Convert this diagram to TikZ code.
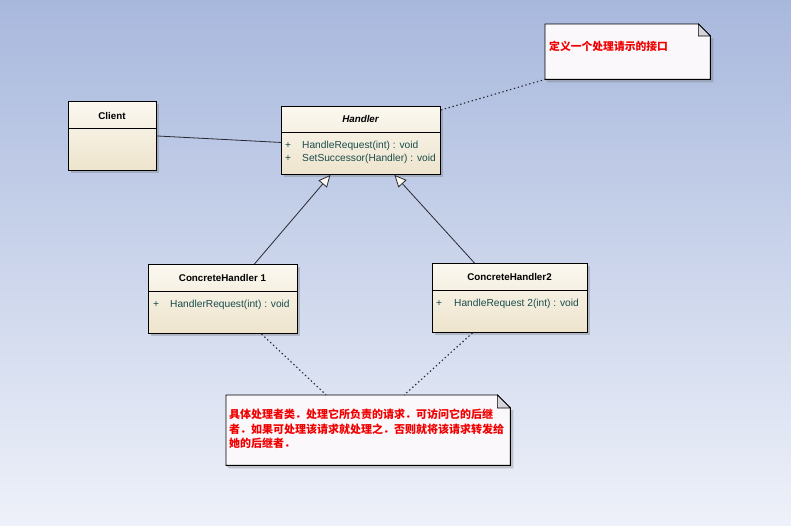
\documentclass[tikz,border=0pt]{standalone}
\usepackage{fontspec}
\setmainfont{Liberation Sans}
\newfontfamily\cjk{Noto Sans CJK SC}
\usetikzlibrary{arrows.meta,shadows}
\definecolor{bgtop}{RGB}{168,184,221}
\definecolor{bgbot}{RGB}{238,241,249}
\definecolor{boxtop}{RGB}{251,248,240}
\definecolor{boxbot}{RGB}{238,228,205}
\definecolor{optext}{RGB}{25,75,75}
\definecolor{notefill}{RGB}{251,248,251}
\definecolor{foldfill}{RGB}{212,212,218}
\definecolor{notered}{RGB}{240,0,0}
\definecolor{linecol}{RGB}{40,40,50}
\begin{document}
\begin{tikzpicture}[x=1pt,y=-1pt,
  classbox/.style={draw=black, line width=0.9pt, top color=boxtop, bottom color=boxbot,
    anchor=north west, inner sep=0pt,
    drop shadow={shadow xshift=3pt, shadow yshift=-3pt, opacity=0.3, fill=black!60}},
  divider/.style={draw=black, line width=0.8pt},
  cname/.style={font=\fontsize{9.8}{11}\selectfont\bfseries, inner sep=0pt},
  optxt/.style={font=\fontsize{10.2}{12}\selectfont, text=optext, anchor=west, inner sep=0pt},
  notearea/.style={anchor=north west, inner sep=0pt},
  noteline/.style={draw=black, line width=0.9pt, fill=notefill},
  foldline/.style={draw=black, line width=0.6pt, fill=foldfill},
  noteshadow/.style={fill=black!60, opacity=0.3},
  notetxt/.style={text=notered, inner sep=0pt, align=left},
  assoc/.style={draw=linecol, line width=0.8pt},
  gen/.style={draw=linecol, line width=0.8pt, -{Triangle[length=12pt,width=11pt,fill=boxtop]}},
  noteconn/.style={draw=linecol, line width=1.1pt, dash pattern=on 1.4pt off 2.6pt}
]
\useasboundingbox (0,0) rectangle (791,525);
\fill[top color=bgtop, bottom color=bgbot] (0,0) rectangle (791,525);

% class boxes
\node[classbox, minimum width=88pt, minimum height=69pt] (client) at (68,101) {};
\draw[divider] ([yshift=-27pt]client.north west) -- ([yshift=-27pt]client.north east);
\node[cname] (clientT) at (112,116) {Client};

\node[classbox, minimum width=159pt, minimum height=68pt] (handler) at (281,106) {};
\draw[divider] ([yshift=-26pt]handler.north west) -- ([yshift=-26pt]handler.north east);
\node[cname, font=\fontsize{9.8}{11}\selectfont\bfseries\itshape] (handlerT) at (360.5,119) {Handler};
\node[optxt] (hp1) at (285,146) {+};
\node[optxt] (hop1) at (302,146) {HandleRequest(int) : void};
\node[optxt] (hp2) at (285,159) {+};
\node[optxt] (hop2) at (302,159) {SetSuccessor(Handler) : void};

\node[classbox, minimum width=149pt, minimum height=69pt] (ch1) at (148,264) {};
\draw[divider] ([yshift=-27pt]ch1.north west) -- ([yshift=-27pt]ch1.north east);
\node[cname] (ch1T) at (222.5,278) {ConcreteHandler 1};
\node[optxt] (c1p) at (153,305) {+};
\node[optxt] (c1op) at (170,305) {HandlerRequest(int) : void};

\node[classbox, minimum width=155pt, minimum height=69pt] (ch2) at (432,263) {};
\draw[divider] ([yshift=-27pt]ch2.north west) -- ([yshift=-27pt]ch2.north east);
\node[cname] (ch2T) at (509.5,277) {ConcreteHandler2};
\node[optxt] (c2p) at (436,304) {+};
\node[optxt] (c2op) at (454,304) {HandleRequest 2(int) : void};

% notes
\node[notearea, minimum width=165pt, minimum height=55pt] (note1) at (545,24) {};
\fill[noteshadow] ([shift={(3pt,-14pt)}]note1.north east) -- ([shift={(3pt,-3pt)}]note1.south east) -- ([shift={(3pt,-3pt)}]note1.south west) -- (note1.south west) -- (note1.south east) -- ([yshift=-14pt]note1.north east) -- cycle;
\draw[noteline] (note1.north west) -- ([xshift=-12pt]note1.north east) -- ([yshift=-12pt]note1.north east) -- (note1.south east) -- (note1.south west) -- cycle;
\draw[foldline] ([xshift=-12pt]note1.north east) -- ([xshift=-12pt,yshift=-12pt]note1.north east) -- ([yshift=-12pt]note1.north east) -- cycle;
\node[notetxt, anchor=west, font=\cjk\bfseries\fontsize{10.8}{13}\selectfont] (note1T) at (549,46) {定义一个处理请示的接口};

\node[notearea, minimum width=284pt, minimum height=70pt] (note2) at (226,395) {};
\fill[noteshadow] ([shift={(3pt,-15pt)}]note2.north east) -- ([shift={(3pt,-3pt)}]note2.south east) -- ([shift={(3pt,-3pt)}]note2.south west) -- (note2.south west) -- (note2.south east) -- ([yshift=-15pt]note2.north east) -- cycle;
\draw[noteline] (note2.north west) -- ([xshift=-13pt]note2.north east) -- ([yshift=-13pt]note2.north east) -- (note2.south east) -- (note2.south west) -- cycle;
\draw[foldline] ([xshift=-13pt]note2.north east) -- ([xshift=-13pt,yshift=-13pt]note2.north east) -- ([yshift=-13pt]note2.north east) -- cycle;
\node[notetxt, anchor=north west, font=\cjk\bfseries\fontsize{11}{14.4}\selectfont] (note2T) at (229,409)
  {具体处理者类．处理它所负责的请求．可访问它的后继\\者．如果可处理该请求就处理之．否则就将该请求转发给\\她的后继者．};

% connectors
\draw[assoc] (client.east) -- ([yshift=-2pt]handler.west);
\draw[gen] ([xshift=31.5pt]ch1.north) -- ([xshift=-30.5pt]handler.south);
\draw[gen] ([xshift=-35.5pt]ch2.north) -- ([xshift=33.5pt]handler.south);
\draw[noteconn] ([yshift=-4pt]handler.north east) -- (note1.south west);
\draw[noteconn] ([xshift=38.5pt]ch1.south) -- ([xshift=-42pt]note2.north);
\draw[noteconn] ([xshift=-37.5pt]ch2.south) -- ([xshift=36pt]note2.north);
\end{tikzpicture}
\end{document}
